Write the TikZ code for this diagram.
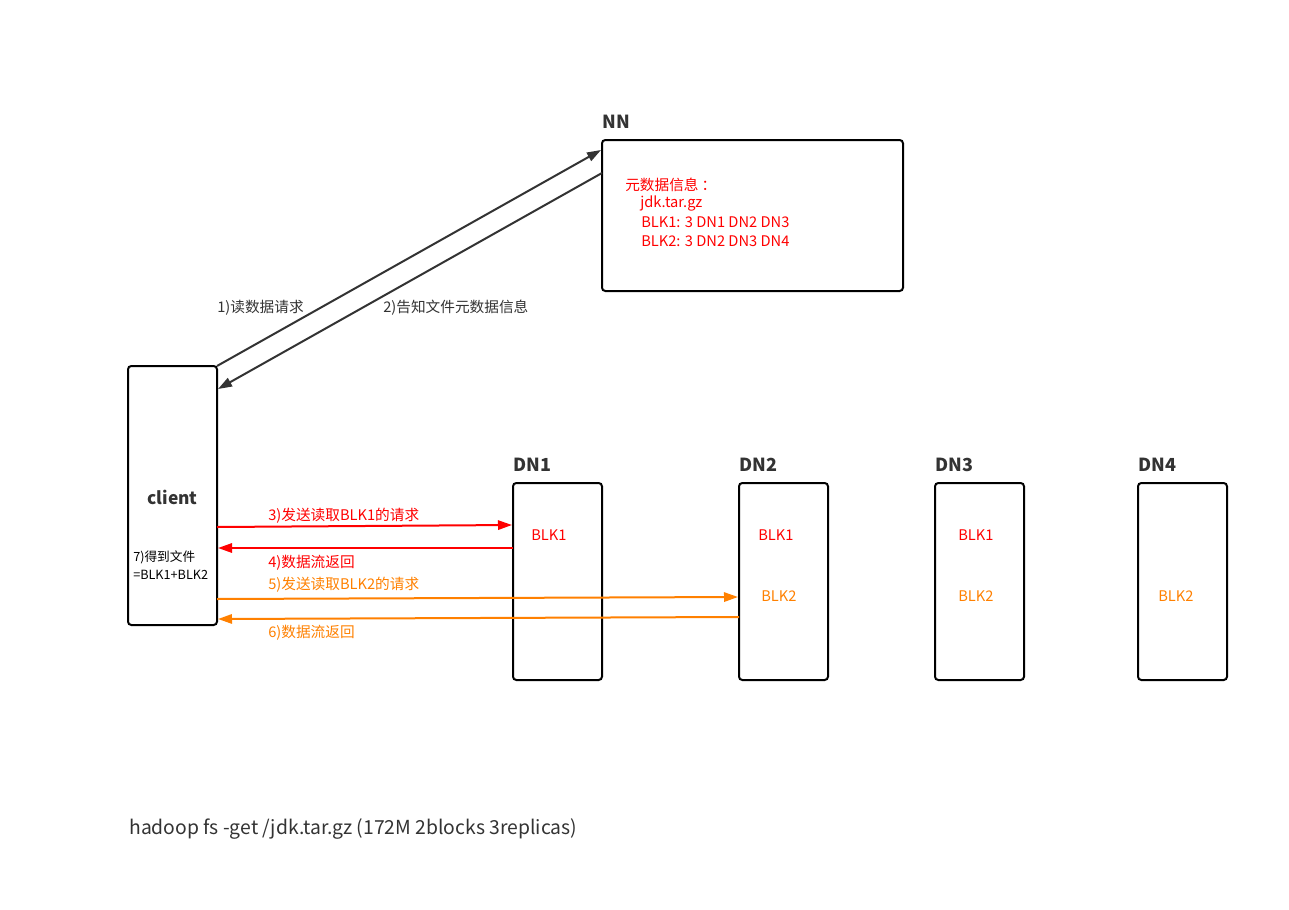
\documentclass[tikz,border=0pt]{standalone}
\usepackage{fontspec}
\setmainfont{Noto Sans CJK SC}
\usetikzlibrary{arrows.meta}
\definecolor{dk}{HTML}{333333}
\definecolor{rd}{HTML}{FF0000}
\definecolor{og}{HTML}{FF8000}
\begin{document}
\begin{tikzpicture}[x=0.75pt,y=-0.75pt,
  box/.style={draw=black,line width=1.5pt,rounded corners=2.5pt},
  ttl/.style={font=\bfseries\fontsize{13.5}{16}\selectfont,text=dk,anchor=west,inner sep=0pt},
  lbl/.style={font=\fontsize{11}{13}\selectfont,anchor=west,inner sep=0pt},
  blk/.style={font=\fontsize{11}{13}\selectfont,anchor=west,inner sep=0pt},
  arr/.style={line width=1.5pt,-{Triangle[length=10.5pt,width=7pt]}}]
\useasboundingbox (0,0) rectangle (1289,910);
% boxes
\draw[box] (602,140) rectangle (903,291);
\draw[box] (128,366) rectangle (217,625);
\draw[box] (513,483) rectangle (602,680);
\draw[box] (739,483) rectangle (828,680);
\draw[box] (935,483) rectangle (1024,680);
\draw[box] (1138,483) rectangle (1227,680);
% named anchors
\coordinate (c1) at (217,366);
\coordinate (n1) at (601,150);
\coordinate (n2) at (602,173);
\coordinate (c2) at (218,389);
\coordinate (c3) at (217,527);
\coordinate (d3) at (512,525);
\coordinate (d4) at (513,548);
\coordinate (c4) at (218,548);
\coordinate (c5) at (217,599);
\coordinate (d5) at (738,597);
\coordinate (d6) at (739,617);
\coordinate (c6) at (218,619);
% arrows
\draw[arr,dk] (c1) -- (n1);
\draw[arr,dk] (n2) -- (c2);
\draw[arr,rd] (c3) -- (d3);
\draw[arr,rd] (d4) -- (c4);
\draw[arr,og] (c5) -- (d5);
\draw[arr,og] (d6) -- (c6);
% titles
\node[ttl] (tnn) at (602,122) {NN};
\node[ttl] (td1) at (513,465) {DN1};
\node[ttl] (td2) at (739,465) {DN2};
\node[ttl] (td3) at (935,465) {DN3};
\node[ttl] (td4) at (1138,465) {DN4};
\node[font=\bfseries\fontsize{13}{15}\selectfont,text=dk,inner sep=0pt] (cl) at (172.5,497) {client};
% NN text
\node[lbl,text=rd] (m0) at (625,185) {元数据信息\hspace{0.2em}：};
\node[lbl,text=rd] (m1) at (640,203) {jdk.tar.gz};
\node[lbl,text=rd] (m2) at (641,222) {BLK1: 3 DN1 DN2 DN3};
\node[lbl,text=rd] (m3) at (641,241) {BLK2: 3 DN2 DN3 DN4};
% arrow labels
\node[lbl,text=dk] (l1) at (217,308) {1)读数据请求};
\node[lbl,text=dk] (l2) at (383,308) {2)告知文件元数据信息};
\node[lbl,text=rd] (l3) at (268,516) {3)发送读取BLK1的请求};
\node[lbl,text=rd] (l4) at (268,563) {4)数据流返回};
\node[lbl,text=og] (l5) at (268,585) {5)发送读取BLK2的请求};
\node[lbl,text=og] (l6) at (268,633) {6)数据流返回};
\node[font=\fontsize{9.5}{13.5}\selectfont,anchor=north west,inner sep=0pt,align=left,text=black] (l7) at (133,550) {7)得到文件\\=BLK1+BLK2};
% blocks
\node[blk,text=rd] (b11) at (531,535) {BLK1};
\node[blk,text=rd] (b21) at (758,535) {BLK1};
\node[blk,text=og] (b22) at (761,596) {BLK2};
\node[blk,text=rd] (b31) at (958,535) {BLK1};
\node[blk,text=og] (b32) at (958,596) {BLK2};
\node[blk,text=og] (b42) at (1158,596) {BLK2};
% bottom
\node[font=\fontsize{14.5}{17}\selectfont,text=dk,anchor=west,inner sep=0pt] (cmd) at (129,829) {hadoop fs -get /jdk.tar.gz (172M 2blocks 3replicas)};
\end{tikzpicture}
\end{document}
